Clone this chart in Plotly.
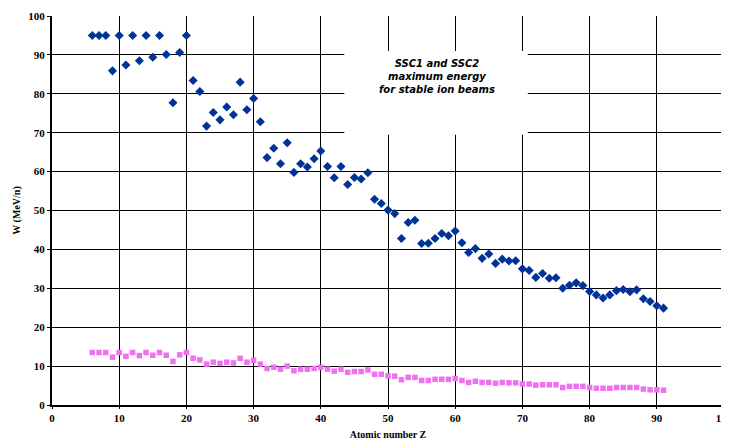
import plotly.graph_objects as go

z_blue = list(range(6, 92))
w_blue = [95, 95, 95, 85.9, 95, 87.4, 95, 88.5, 95, 89.4, 95, 90.1, 77.7, 90.6, 95,
          83.4, 80.6, 71.7, 75.2, 73.3, 76.6, 74.6, 83.0, 75.9, 78.8, 72.8, 63.6, 66.0,
          62.0, 67.4, 59.8, 62.0, 61.2, 63.3, 65.3, 61.3, 58.4, 61.3, 56.7, 58.5, 58.1,
          59.7, 52.9, 51.8, 50.1, 49.2, 42.8, 46.9, 47.5, 41.5, 41.6, 42.8, 44.1, 43.5,
          44.7, 41.7, 39.2, 40.2, 37.7, 38.8, 36.4, 37.5, 37.0, 37.1, 35.0, 34.6, 32.8,
          33.8, 32.6, 32.7, 30.0, 30.8, 31.4, 30.7, 29.2, 28.3, 27.5, 28.3, 29.4, 29.7,
          29.1, 29.6, 27.3, 26.6, 25.5, 24.9]

z_pink = list(range(6, 92))
w_pink = [13.5, 13.5, 13.5, 12.3, 13.5, 12.5, 13.5, 12.7, 13.5, 12.8, 13.5, 12.8, 11.2,
          12.9, 13.5, 12.0, 11.6, 10.5, 11.0, 10.7, 11.0, 10.8, 12.0, 11.0, 11.5, 10.5,
          9.4, 9.7, 9.2, 10.0, 8.8, 9.2, 9.2, 9.4, 9.7, 9.2, 8.7, 9.2, 8.4, 8.6, 8.6,
          9.0, 7.9, 7.9, 7.5, 7.4, 6.5, 7.1, 7.1, 6.3, 6.3, 6.6, 6.6, 6.6, 6.8, 6.3,
          5.8, 6.1, 5.8, 5.8, 5.6, 5.8, 5.7, 5.7, 5.4, 5.4, 5.1, 5.2, 5.2, 5.2, 4.5,
          4.8, 4.8, 4.8, 4.5, 4.3, 4.3, 4.3, 4.5, 4.5, 4.5, 4.5, 4.1, 3.9, 3.9, 3.8]

x_ticks = list(range(0, 101, 10))
y_ticks = list(range(0, 101, 10))

fig = go.Figure()
fig.add_trace(go.Scatter(x=z_blue, y=w_blue, mode="markers",
                         marker=dict(symbol="diamond", size=7, color="#003399"),
                         showlegend=False))
fig.add_trace(go.Scatter(x=z_pink, y=w_pink, mode="markers",
                         marker=dict(symbol="square", size=5.5, color="#F070F0"),
                         showlegend=False))

tickfont = dict(family="Liberation Serif", size=11, color="black", weight="bold")
titlefont = dict(family="Liberation Serif", size=10, color="black", weight="bold")
fig.update_xaxes(range=[0, 100], tickvals=x_ticks, showgrid=True, gridcolor="black",
                 gridwidth=1, showline=True, linecolor="black", linewidth=2,
                 zeroline=False, ticks="outside", ticklen=2, tickcolor="black",
                 tickfont=tickfont, automargin=False,
                 title=dict(text="Atomic number Z", standoff=8, font=titlefont))
fig.update_yaxes(range=[0, 100], tickvals=y_ticks, showgrid=True, gridcolor="black",
                 gridwidth=1, showline=True, linecolor="black", linewidth=2,
                 zeroline=False, ticks="outside", ticklen=3, tickcolor="black",
                 tickfont=tickfont, automargin=False,
                 title=dict(text="W (MeV/n)", standoff=6, font=titlefont))

fig.add_shape(type="rect", xref="x", yref="y", x0=43.5, x1=70.8, y0=69.5, y1=91,
              fillcolor="white", line=dict(width=0), layer="above")
fig.add_annotation(xref="x", yref="y", x=57.3, y=84.5, showarrow=False,
                   text="SSC1 and SSC2<br>maximum energy<br>for stable ion beams",
                   font=dict(family="DejaVu Sans", size=10, color="black", style="italic", weight="bold"),
                   align="center")

fig.update_layout(width=729, height=435, margin=dict(l=44, r=13, t=8, b=38),
                  plot_bgcolor="white", paper_bgcolor="white")

fig.write_html("out.html")
